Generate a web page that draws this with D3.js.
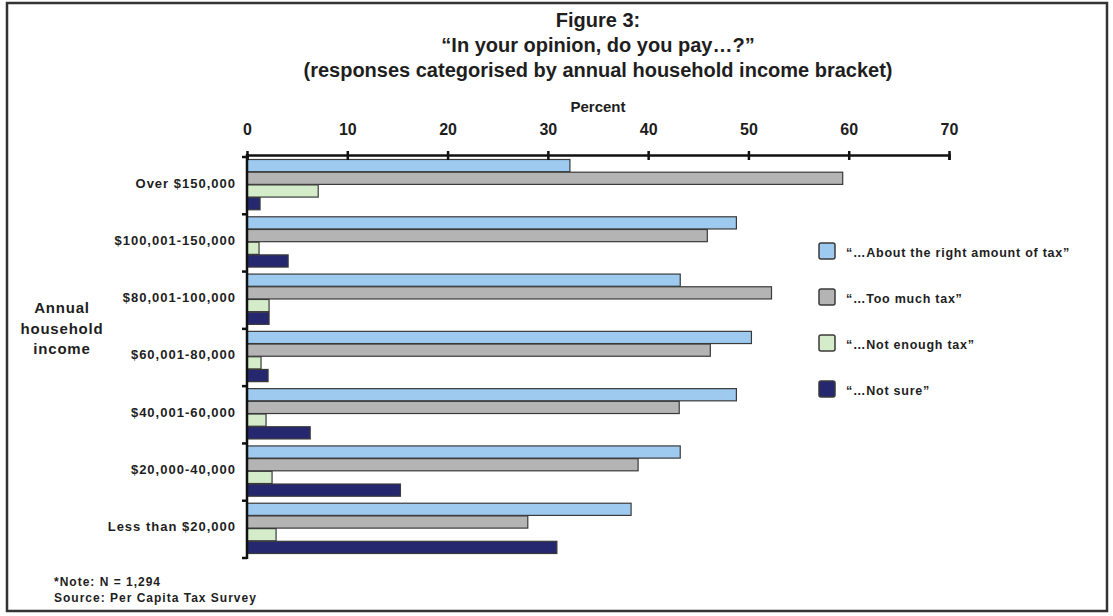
<!DOCTYPE html>
<html>
<head>
<meta charset="utf-8">
<script src="https://cdn.jsdelivr.net/npm/d3@7"></script>
<style>
  body { margin: 0; background: #fff; }
  svg { display: block; }
  .narrow { font-family: "Liberation Sans Narrow", "Arial Narrow", "Liberation Sans", Arial, sans-serif; font-weight: bold; }
  .sans { font-family: "Liberation Sans", Arial, sans-serif; font-weight: bold; }
</style>
</head>
<body>
<svg id="chart" width="1113" height="616"></svg>
<script>
// Income brackets, top to bottom
const categories = ["Over $150,000", "$100,001-150,000", "$80,001-100,000", "$60,001-80,000",
                    "$40,001-60,000", "$20,000-40,000", "Less than $20,000"];
// Response options
const seriesNames = ["“…About the right amount of tax”", "“…Too much tax”",
                     "“…Not enough tax”", "“…Not sure”"];
// Percent of respondents per bracket
const aboutRight = [32.2, 48.8, 43.2, 50.3, 48.8, 43.2, 38.3];
const tooMuch    = [59.4, 45.9, 52.3, 46.2, 43.1, 39.0, 28.0];
const notEnough  = [7.1, 1.2, 2.2, 1.4, 1.9, 2.5, 2.9];
const notSure    = [1.3, 4.1, 2.2, 2.1, 6.3, 15.3, 30.9];
const percentTicks = [0, 10, 20, 30, 40, 50, 60, 70];

const seriesColors = ["#9ecaf0", "#b4b4b4", "#d4ecca", "#25286f"];
const seriesValues = [aboutRight, tooMuch, notEnough, notSure];
const ink = "#1e1e1e";

const svg = d3.select("#chart");

// outer frame
svg.append("rect")
  .attr("x", 7).attr("y", 3).attr("width", 1100).attr("height", 608)
  .attr("fill", "#fff").attr("stroke", "#333").attr("stroke-width", 2.5);

// title block
const titleLines = ["Figure 3:", "“In your opinion, do you pay…?”",
                    "(responses categorised by annual household income bracket)"];
svg.append("g").selectAll("text").data(titleLines).join("text")
  .attr("class", "narrow")
  .attr("x", 598).attr("y", (d, i) => 27 + i * 25)
  .attr("text-anchor", "middle")
  .attr("font-size", 20).attr("fill", ink)
  .text(d => d);

const x = d3.scaleLinear().domain([0, 70]).range([247, 949]);
const y = d3.scaleBand().domain(categories).range([157, 558]);
const ySeries = d3.scaleBand().domain(d3.range(seriesNames.length))
  .range([2.5, y.bandwidth() - 4.5]).paddingInner(0.04);

// bars
const groups = svg.append("g").selectAll("g").data(categories).join("g")
  .attr("transform", d => `translate(0,${y(d)})`);

groups.selectAll("rect")
  .data((c, ci) => seriesValues.map((vals, si) => ({ si, v: vals[ci] })))
  .join("rect")
  .attr("x", x(0))
  .attr("y", d => ySeries(d.si))
  .attr("width", d => x(d.v) - x(0))
  .attr("height", ySeries.bandwidth())
  .attr("fill", d => seriesColors[d.si])
  .attr("stroke", "#3a3a3a")
  .attr("stroke-width", 1.2);

// top percent axis
const xAxis = svg.append("g")
  .attr("transform", "translate(0,155)")
  .call(d3.axisTop(x).tickValues(percentTicks).tickSize(-5).tickPadding(20));
xAxis.select(".domain").attr("stroke", "#111").attr("stroke-width", 2.5);
xAxis.selectAll(".tick line").attr("stroke", "#111").attr("stroke-width", 2.5)
  .attr("y1", -4);
xAxis.selectAll(".tick text")
  .attr("class", "narrow").attr("font-size", 16).attr("fill", ink);

svg.append("text").attr("class", "narrow")
  .attr("x", x(35)).attr("y", 112).attr("text-anchor", "middle")
  .attr("font-size", 15).attr("fill", ink).text("Percent");

// left category axis
const yAxis = svg.append("g")
  .attr("transform", `translate(${x(0)},0)`)
  .call(d3.axisLeft(y).tickSize(0).tickPadding(11));
yAxis.select(".domain").remove();
yAxis.selectAll(".tick text")
  .attr("class", "sans").attr("font-size", 13).attr("letter-spacing", 1)
  .attr("fill", ink).attr("dy", "0.15em");

svg.append("line")
  .attr("x1", x(0)).attr("x2", x(0)).attr("y1", 154).attr("y2", 559)
  .attr("stroke", "#111").attr("stroke-width", 2.5);
const bounds = categories.map(c => y(c)).concat([y.range()[1]]);
svg.append("g").selectAll("line").data(bounds).join("line")
  .attr("x1", x(0) - 5).attr("x2", x(0)).attr("y1", d => d).attr("y2", d => d)
  .attr("stroke", "#111").attr("stroke-width", 2.5);

// axis title on the left
const yTitle = ["Annual", "household", "income"];
svg.append("g").selectAll("text").data(yTitle).join("text")
  .attr("class", "sans").attr("x", 62).attr("y", (d, i) => 313 + i * 20.5)
  .attr("text-anchor", "middle").attr("font-size", 15).attr("letter-spacing", 0.8)
  .attr("fill", ink).text(d => d);

// legend
const legend = svg.append("g").selectAll("g").data(seriesNames).join("g")
  .attr("transform", (d, i) => `translate(819,${243 + i * 46})`);
legend.append("rect")
  .attr("width", 16).attr("height", 16).attr("rx", 2)
  .attr("fill", (d, i) => seriesColors[i])
  .attr("stroke", "#3a3a3a").attr("stroke-width", 1.5);
legend.append("text")
  .attr("class", "sans").attr("x", 27).attr("y", 14)
  .attr("font-size", 12.5).attr("letter-spacing", 0.75)
  .attr("fill", ink).text(d => d);

// footnote
const notes = ["*Note: N = 1,294", "Source: Per Capita Tax Survey"];
svg.append("g").selectAll("text").data(notes).join("text")
  .attr("class", "sans").attr("x", 54).attr("y", (d, i) => 586 + i * 16)
  .attr("font-size", 12).attr("letter-spacing", 1)
  .attr("fill", ink).text(d => d);
</script>
</body>
</html>
